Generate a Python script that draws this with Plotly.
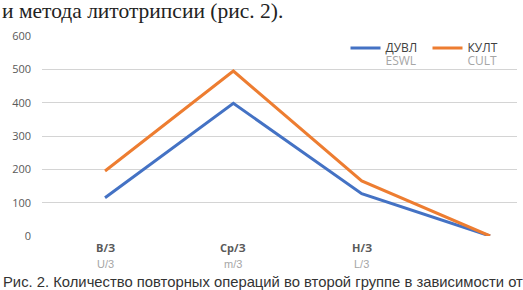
import plotly.graph_objects as go

categories = ["В/З", "Ср/З", "Н/З", ""]
categories_en = ["U/3", "m/3", "L/3", ""]
eswl_values = [115, 398, 127, 0]
cult_values = [195, 495, 165, 0]
series_names = ["ДУВЛ", "КУЛТ"]
series_names_en = ["ESWL", "CULT"]
y_ticks = [0, 100, 200, 300, 400, 500, 600]

top_text = "и метода литотрипсии (рис. 2)."
caption = "Рис. 2. Количество повторных операций во второй группе в зависимости от"

W, H = 523, 290
ML, MR, MT, MB = 42, 6, 36, 54
plot_h = H - MT - MB


def py(px):
    """pixel y (from top of figure) -> paper y"""
    return (H - MB - px) / plot_h


x_idx = list(range(len(categories)))

fig = go.Figure()
colors = ["#4472C4", "#ED7D31"]
for name, name_en, vals, col in zip(series_names, series_names_en,
                                    [eswl_values, cult_values], colors):
    fig.add_trace(go.Scatter(
        x=x_idx, y=vals, mode="lines",
        name=(f"<span style='color:#404040;font-size:12px'>{name}</span><br>"
              f"<span style='color:#A6A6A6;font-size:12px'>{name_en}</span>"),
        line=dict(color=col, width=3),
    ))

fig.update_layout(
    width=W, height=H, autosize=False,
    margin=dict(l=ML, r=MR, t=MT, b=MB, pad=0),
    paper_bgcolor="white", plot_bgcolor="white",
    font=dict(family="Open Sans", size=11, color="#595959"),
    showlegend=True,
    legend=dict(
        orientation="h", x=(345.5 - ML) / (W - ML - MR), y=py(35),
        xanchor="left", yanchor="top",
        valign="top", bgcolor="rgba(0,0,0,0)",
        font=dict(family="Open Sans", size=10, color="#404040"),
        itemwidth=30, entrywidth=37, entrywidthmode="pixels",
    ),
    xaxis=dict(
        range=[-0.491, 3.21], showgrid=False, zeroline=False,
        showticklabels=False, showline=False, fixedrange=True,
    ),
    yaxis=dict(
        range=[0, 600], tickvals=y_ticks, ticktext=[str(v) for v in y_ticks],
        showgrid=True, gridcolor="#D4D4D4", gridwidth=1.2,
        zeroline=False, showline=False, ticks="",
        ticklabelstandoff=10, fixedrange=True,
        tickfont=dict(family="Open Sans", size=11, color="#595959"),
    ),
)

for i, (c, ce) in enumerate(zip(categories, categories_en)):
    if c:
        fig.add_annotation(x=i, y=py(247.5), xref="x", yref="paper", text=f"<b>{c}</b>",
                           showarrow=False, yanchor="middle",
                           font=dict(family="Open Sans", size=11, color="#595959"))
        fig.add_annotation(x=i, y=py(263.5), xref="x", yref="paper", text=ce,
                           showarrow=False, yanchor="middle",
                           font=dict(family="Liberation Sans", size=11, color="#A6A6A6"))

fig.add_annotation(x=0, y=py(10.5), xref="paper", yref="paper",
                   xshift=-ML, text=top_text, showarrow=False,
                   xanchor="left", yanchor="middle",
                   font=dict(family="Liberation Serif", size=21.5, color="#222222"))
fig.add_annotation(x=0, y=py(282), xref="paper", yref="paper",
                   xshift=-ML + 1, text=caption, showarrow=False,
                   xanchor="left", yanchor="middle",
                   font=dict(family="Liberation Sans", size=14.8, color="#333333"))

fig.write_html("out.html", config={"displayModeBar": False},
               post_script="document.body.style.margin='0';document.body.style.padding='0';")
